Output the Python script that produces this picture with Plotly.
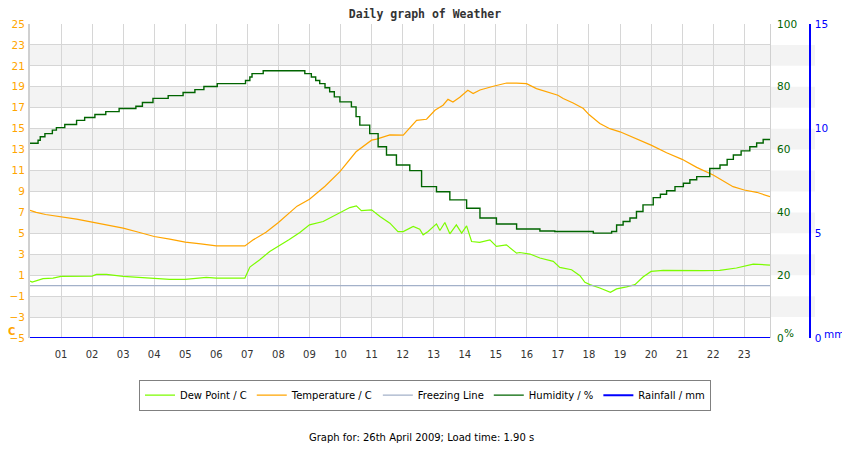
import plotly.graph_objects as go

# hours since midnight
temp_hours = [0, 0.2, 0.5, 1.0, 1.5, 2.0, 2.5, 3.0, 3.5, 4.0, 4.5, 5.0, 5.5, 6.0, 6.5, 6.92,
              7.2, 7.6, 8.0, 8.6, 9.0, 9.5, 9.98, 10.2, 10.5, 11.0, 11.16, 11.59, 12.02,
              12.45, 12.77, 13.04, 13.3, 13.46, 13.62, 13.84, 14.1, 14.27, 14.49, 14.92,
              15.35, 15.67, 15.99, 16.31, 16.63, 17.0, 17.17, 17.49, 17.82, 18.0, 18.35,
              18.67, 19.0, 19.43, 20.0, 20.5, 21.0, 21.47, 22.0, 22.64, 23.0, 23.4, 23.83]
temperature = [7.2, 7.0, 6.8, 6.6, 6.35, 6.07, 5.8, 5.5, 5.1, 4.7, 4.45, 4.16, 4.0, 3.8, 3.8, 3.8,
               4.4, 5.1, 6.03, 7.6, 8.26, 9.5, 10.89, 11.69, 12.79, 13.9, 14.0, 14.4, 14.38,
               15.8, 15.9, 16.76, 17.24, 17.8, 17.55, 18.0, 18.67, 18.35, 18.7, 19.05,
               19.36, 19.36, 19.3, 18.83, 18.5, 18.19, 17.88, 17.46, 16.92, 16.35, 15.5,
               15.0, 14.7, 14.16, 13.43, 12.7, 12.07, 11.3, 10.57, 9.46, 9.14, 8.92, 8.5]

dew_hours = [0, 0.07, 0.42, 0.74, 1.0, 1.5, 2.0, 2.14, 2.46, 3.0, 3.53, 4.0, 4.5, 5.0, 5.37,
             5.68, 6.0, 6.92, 7.08, 7.4, 7.72, 8.0, 8.35, 8.69, 9.0, 9.44, 9.98, 10.3, 10.51,
             10.67, 11.0, 11.27, 11.59, 11.85, 12.02, 12.34, 12.55, 12.66, 12.82, 13.09,
             13.2, 13.36, 13.52, 13.73, 13.9, 14.06, 14.22, 14.48, 14.81, 15.02, 15.34,
             15.67, 15.77, 16.1, 16.42, 16.85, 17.06, 17.44, 17.71, 17.87, 18.03, 18.35,
             18.69, 18.89, 19.21, 19.48, 19.74, 20.0, 20.39, 21.03, 21.68, 22.21, 22.75,
             23.29, 23.83]
dew_point = [0.45, 0.35, 0.67, 0.73, 0.89, 0.89, 0.92, 1.08, 1.08, 0.89, 0.79, 0.73, 0.6, 0.6, 0.7,
             0.79, 0.73, 0.73, 1.78, 2.48, 3.27, 3.75, 4.4, 5.08, 5.81, 6.13, 6.92, 7.46, 7.62,
             7.17, 7.24, 6.6, 5.97, 5.17, 5.17, 5.65, 5.4, 4.86, 5.17, 5.9,
             5.27, 6.03, 4.95, 5.81, 5.02, 5.71, 4.22, 4.13, 4.38, 3.75, 3.9,
             3.11, 3.17, 3.02, 2.64, 2.32, 1.75, 1.52, 0.95, 0.32, 0.1, -0.22,
             -0.64, -0.31, -0.12, 0.1, 0.83, 1.36, 1.46, 1.43, 1.43, 1.46, 1.69,
             2.06, 1.97]

hum_hours = [0, 0.26, 0.33, 0.48, 0.72, 0.85, 1.12, 1.5, 1.76, 2.09, 2.44, 2.87, 3.41, 3.62,
             3.96, 4.45, 4.93, 5.31, 5.6, 6.03, 6.94, 7.08, 7.15, 7.51, 8.47, 8.85, 9.06,
             9.2, 9.33, 9.5, 9.65, 9.8, 9.98, 10.35, 10.5, 10.62, 10.94, 11.21, 11.48,
             11.8, 12.23, 12.61, 13.09, 13.52, 14.06, 14.49, 15.02, 15.67, 16.42, 16.9,
             18.14, 18.73, 18.89, 19.1, 19.32, 19.53, 19.74, 20.07, 20.3, 20.5, 20.77,
             21.04, 21.25, 21.47, 21.89, 22.22, 22.45, 22.65, 22.9, 23.18, 23.4, 23.61,
             23.83]
humidity = [62.0, 63.0, 64.1, 65.1, 66.2, 67.0, 68.0, 69.3, 70.2, 71.2, 72.1, 73.1, 73.8, 75.0,
            76.3, 77.2, 78.2, 79.1, 80.1, 81.0, 82.0, 83.1, 84.2, 85.1, 85.1, 84.2, 83.1,
            82.0, 81.0, 79.7, 78.4, 76.8, 75.2, 73.6, 70.5, 67.8, 65.1, 60.9, 58.3,
            55.1, 53.3, 48.2, 46.6, 44.0, 41.3, 38.2, 36.3, 34.7, 34.1, 33.9,
            33.4, 33.9, 36.0, 37.1, 38.2, 40.3, 42.4, 44.7, 45.8, 46.9, 48.2,
            49.3, 50.4, 51.4, 54.0, 55.1, 56.9, 58.3, 59.6, 60.9, 62.1, 63.2,
            63.2]

rain_hours = [0, 23.83]
rainfall = [0, 0]
freezing = [0, 0]

hour_ticks = list(range(1, 24))
hour_labels = ["%02d" % h for h in hour_ticks]

ORANGE = "#FFA500"
GREEN = "#006400"
LIME = "#7CFC00"
BLUE = "#0000FF"
FREEZE = "#A3B1C9"
GRID = "#D6D6D6"

fig = go.Figure()
fig.add_trace(go.Scatter(x=dew_hours, y=dew_point, name="Dew Point / C", mode="lines",
                         line=dict(color=LIME, width=1.2)))
fig.add_trace(go.Scatter(x=temp_hours, y=temperature, name="Temperature / C", mode="lines",
                         line=dict(color=ORANGE, width=1.2)))
fig.add_trace(go.Scatter(x=rain_hours, y=freezing, name="Freezing Line", mode="lines",
                         line=dict(color=FREEZE, width=1.2)))
fig.add_trace(go.Scatter(x=hum_hours, y=humidity, name="Humidity / %", mode="lines", yaxis="y2",
                         line=dict(color=GREEN, width=1.4, shape="hv")))
fig.add_trace(go.Scatter(x=rain_hours, y=rainfall, name="Rainfall / mm", mode="lines", yaxis="y3",
                         line=dict(color=BLUE, width=2)))

# alternating grey bands, 2 degrees each
band_bottoms = [-3, 1, 5, 9, 13, 17, 21]
for b in band_bottoms:
    fig.add_shape(type="rect", xref="paper", yref="y", x0=0, x1=1, y0=b, y1=b + 2,
                  fillcolor="#F3F3F3", line_width=0, layer="below")

# page body has an 8px margin, so the figure is 8px smaller each way
dom = 740 / 785
fig.update_layout(
    width=842, height=442,
    margin=dict(l=22, r=35, t=15.5, b=111.5, autoexpand=False),
    paper_bgcolor="white", plot_bgcolor="white",
    font=dict(family="DejaVu Sans", size=10, color="#000000"),
    title=dict(text="<b>Daily graph of Weather</b>", x=417 / 842, xref="container", y=1 - 6 / 442,
               yanchor="middle", xanchor="center",
               font=dict(family="DejaVu Sans Mono", size=11.5, color="#333333")),
    showlegend=True,
    legend=dict(orientation="h", x=(417 - 22) / 785, xanchor="center", y=-0.182, yanchor="middle",
                bordercolor="#808080", borderwidth=1, font=dict(size=10), itemwidth=30,
                tracegroupgap=0),
    xaxis=dict(domain=[0, dom], range=[0, 23.83], tickvals=hour_ticks, ticktext=hour_labels,
               showgrid=True, gridcolor=GRID, gridwidth=1, zeroline=False, ticks="",
               ticklabelstandoff=9, tickfont=dict(color="#333333", size=10),
               showline=False, automargin=False),
    yaxis=dict(range=[-5, 25], tick0=-5, dtick=2, showgrid=True, gridcolor=GRID, gridwidth=1,
               zeroline=False, tickfont=dict(color=ORANGE, size=10.5), ticks="",
               ticklabelstandoff=1, showline=True, linecolor="#D0D0D0", linewidth=2,
               automargin=False),
    yaxis2=dict(range=[0, 100], dtick=20, overlaying="y", side="right", anchor="x",
                showgrid=False, zeroline=False, tickfont=dict(color=GREEN, size=10.5),
                ticks="", ticklabelstandoff=4, showline=True, linecolor="#D0D0D0", linewidth=1,
                automargin=False),
    yaxis3=dict(range=[0, 15], dtick=5, overlaying="y", side="right", anchor="free",
                position=(802 - 22) / 785, showgrid=False, zeroline=False,
                tickfont=dict(color=BLUE, size=10.5), ticks="", ticklabelstandoff=2,
                showline=True, linecolor=BLUE, linewidth=1.5, automargin=False),
)

# unit labels next to each axis
fig.add_annotation(text="<b>C</b>", xref="paper", yref="paper", x=-22 / 740, y=(338.5 - 332) / 315,
                   showarrow=False, font=dict(color=ORANGE, size=10), xanchor="left", yanchor="middle",
                   borderpad=0)
fig.add_annotation(text="%", xref="paper", yref="paper", x=(789 - 30) / 785, y=(338.5 - 333) / 315,
                   showarrow=False, font=dict(color=GREEN, size=10.5), xanchor="center", yanchor="middle")
fig.add_annotation(text="mm", xref="paper", yref="paper", x=(834 - 30) / 785, y=(338.5 - 334) / 315,
                   showarrow=False, font=dict(color=BLUE, size=10.5), xanchor="center", yanchor="middle")
fig.add_annotation(text="Graph for: 26th April 2009; Load time: 1.90 s", xref="paper", yref="paper",
                   x=(421 - 30) / 785, y=(338.5 - 438) / 315, showarrow=False,
                   font=dict(size=10), xanchor="center", yanchor="middle")

fig.write_html("out.html")
